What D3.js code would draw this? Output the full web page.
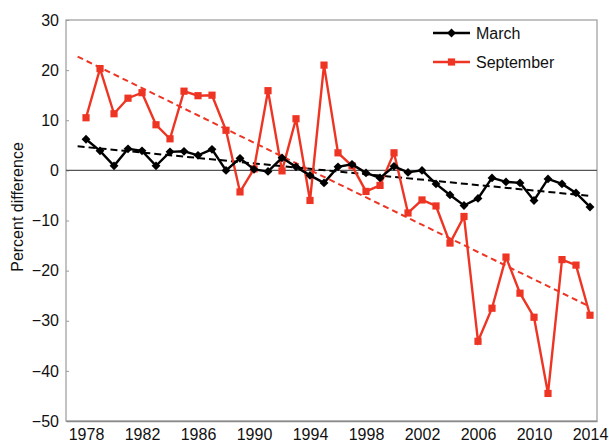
<!DOCTYPE html>
<html>
<head>
<meta charset="utf-8">
<script src="https://cdn.jsdelivr.net/npm/d3@7"></script>
<style>
  body { margin: 0; background: #fff; }
  svg text { font-family: "Liberation Sans", Arial, sans-serif; fill: #111; }
</style>
</head>
<body>
<div id="chart"></div>
<script>
// year range and the two monthly series (percent difference)
var years = d3.range(1978, 2015);
var march = [6.2, 3.9, 0.9, 4.3, 3.9, 0.9, 3.7, 3.8, 3.0, 4.2,
             0.0, 2.4, 0.2, -0.2, 2.5, 0.7, -1.0, -2.5, 0.7, 1.2,
             -0.5, -1.5, 0.8, -0.4, 0.0, -2.7, -4.9, -7.0, -5.6, -1.5,
             -2.3, -2.5, -6.0, -1.7, -2.7, -4.5, -7.3];
var september = [10.5, 20.3, 11.3, 14.4, 15.5, 9.1, 6.3, 15.8, 14.9, 15.0,
                 8.0, -4.3, 0.3, 15.9, -0.1, 10.3, -6.0, 21.0, 3.5, 0.9,
                 -4.2, -3.0, 3.5, -8.5, -5.9, -7.1, -14.5, -9.2, -34.1, -27.5,
                 -17.3, -24.5, -29.3, -44.5, -17.8, -18.9, -28.9];

// trend line end points
var trendYears = [1977.4, 2014];
var marchTrend = [4.8, -5.1];
var septTrend = [22.7, -27.2];

var yTicks = [30, 20, 10, 0, -10, -20, -30, -40, -50];
var xTicks = d3.range(1978, 2015, 4);

var W = 609, H = 442;
var m = {left: 66, right: 12, top: 20, bottom: 21};
var RED = "#ee3524";

var svg = d3.select("#chart").append("svg").attr("width", W).attr("height", H);

var x = d3.scaleLinear().domain([1976.57, 2014.5]).range([m.left, W - m.right]);
var y = d3.scaleLinear().domain([-50, 30]).range([H - m.bottom, m.top]);

// frame
svg.append("rect")
    .attr("x", x.range()[0]).attr("y", y(30))
    .attr("width", x.range()[1] - x.range()[0]).attr("height", y(-50) - y(30))
    .attr("fill", "none").attr("stroke", "#9a9a9a").attr("stroke-width", 1.2);

// y axis
var yAxis = svg.append("g")
    .attr("transform", "translate(" + m.left + ",0)")
    .call(d3.axisRight(y).tickValues(yTicks).tickSize(3).tickFormat(function(d) { return d < 0 ? "\u2212" + (-d) : d; }));
yAxis.select(".domain").remove();
yAxis.selectAll("line").attr("stroke", "#9a9a9a");
yAxis.selectAll("text").attr("x", -7).attr("text-anchor", "end")
    .style("font-size", "16px").attr("fill", "#111");

// x axis labels, no tick marks
var xAxis = svg.append("g")
    .attr("transform", "translate(0," + (H - m.bottom) + ")")
    .call(d3.axisBottom(x).tickValues(xTicks).tickSize(0).tickFormat(d3.format("d")));
xAxis.select(".domain").attr("stroke", "#8a8a8a").attr("stroke-width", 1.5);
xAxis.selectAll("text").attr("y", 8).style("font-size", "16px").attr("fill", "#111");

// y label
svg.append("text")
    .attr("transform", "translate(23," + 207 + ") rotate(-90)")
    .attr("text-anchor", "middle")
    .style("font-size", "16px")
    .text("Percent difference");

// zero line
svg.append("line")
    .attr("x1", x.range()[0]).attr("x2", x.range()[1])
    .attr("y1", y(0)).attr("y2", y(0))
    .attr("stroke", "#555").attr("stroke-width", 1.2);

var line = d3.line().x(function(d) { return x(d[0]); }).y(function(d) { return y(d[1]); });

// trend lines
svg.append("path")
    .datum(d3.zip(trendYears, septTrend))
    .attr("d", line).attr("fill", "none")
    .attr("stroke", RED).attr("stroke-width", 2).attr("stroke-dasharray", "6,4");
svg.append("path")
    .datum(d3.zip(trendYears, marchTrend))
    .attr("d", line).attr("fill", "none")
    .attr("stroke", "#000").attr("stroke-width", 2).attr("stroke-dasharray", "7,4");

var diamond = d3.symbol().type(d3.symbolDiamond2).size(50);
var square = d3.symbol().type(d3.symbolSquare).size(52);

// September series
svg.append("path")
    .datum(d3.zip(years, september))
    .attr("d", line).attr("fill", "none")
    .attr("stroke", RED).attr("stroke-width", 2.4);
svg.selectAll(".sq").data(d3.zip(years, september)).enter()
    .append("path").attr("class", "sq")
    .attr("d", square)
    .attr("transform", function(d) { return "translate(" + x(d[0]) + "," + y(d[1]) + ")"; })
    .attr("fill", RED);

// March series
svg.append("path")
    .datum(d3.zip(years, march))
    .attr("d", line).attr("fill", "none")
    .attr("stroke", "#000").attr("stroke-width", 2.4);
svg.selectAll(".dm").data(d3.zip(years, march)).enter()
    .append("path").attr("class", "dm")
    .attr("d", diamond)
    .attr("transform", function(d) { return "translate(" + x(d[0]) + "," + y(d[1]) + ")"; })
    .attr("fill", "#000");

// legend
var legend = [
    {name: "March", color: "#000", sym: diamond, y: 33},
    {name: "September", color: RED, sym: square, y: 62}
];
legend.forEach(function(l) {
    svg.append("line")
        .attr("x1", 433).attr("x2", 470).attr("y1", l.y).attr("y2", l.y)
        .attr("stroke", l.color).attr("stroke-width", 2.5);
    svg.append("path").attr("d", l.sym)
        .attr("transform", "translate(451.5," + l.y + ")")
        .attr("fill", l.color);
    svg.append("text")
        .attr("x", 476).attr("y", l.y + 5.5)
        .style("font-size", "16px")
        .text(l.name);
});
</script>
</body>
</html>
